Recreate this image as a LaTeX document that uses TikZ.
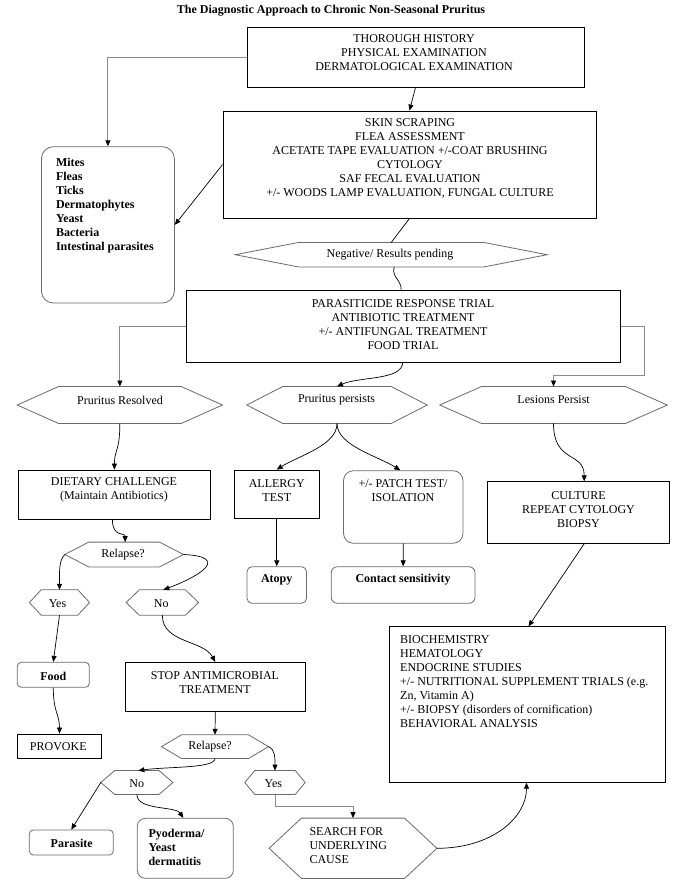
\documentclass[tikz,border=0pt]{standalone}
\usepackage{fontspec}
\setmainfont{Liberation Serif}
\usetikzlibrary{calc,arrows.meta}
\definecolor{shapec}{gray}{0.42}
\definecolor{elbc}{gray}{0.55}
\newcommand{\hexshape}[6]{%
  \node[ghost, minimum width=#4pt, minimum height=#5pt] (#1) at (#2,#3) {};
  \draw[hexline] (#1.west) -- ($(#1.north west)+(#6,0)$) -- ($(#1.north east)+(-#6,0)$) -- (#1.east) -- ($(#1.south east)+(-#6,0)$) -- ($(#1.south west)+(#6,0)$) -- cycle;
}
\begin{document}
\begin{tikzpicture}[x=1pt,y=-1pt,
  font=\fontsize{12}{14}\selectfont,
  box/.style={draw, line width=0.8pt, inner sep=0pt},
  rbox/.style={draw=shapec, line width=0.8pt, inner sep=0pt},
  ghost/.style={inner sep=0pt},
  hexline/.style={draw=shapec, line width=0.8pt, line join=miter},
  txt/.style={inner sep=0pt, align=center},
  ltxt/.style={inner sep=0pt, align=left, anchor=west},
  bold/.style={font=\fontsize{12}{14}\selectfont\bfseries},
  ln/.style={line width=0.7pt},
  arr/.style={line width=0.7pt, -{Triangle[length=6pt,width=5pt]}},
  elb/.style={draw=elbc, line width=0.9pt, -{Triangle[length=6pt,width=5pt,black]}}
]
\fill[white] (0,0) rectangle (680,894);
\useasboundingbox (0,0) rectangle (680,894);

% title
\node[bold, inner sep=0pt] (title) at (331,11) {The Diagnostic Approach to Chronic Non-Seasonal Pruritus};

% top boxes
\node[box, minimum width=337pt, minimum height=60pt] (b1) at (415.5,57) {};
\node[txt] (b1t) at (414,53) {THOROUGH HISTORY\\PHYSICAL EXAMINATION\\DERMATOLOGICAL EXAMINATION};

\node[box, minimum width=373pt, minimum height=107pt] (skin) at (409.5,164.5) {};
\node[txt] (skint) at (410,158) {SKIN SCRAPING\\FLEA ASSESSMENT\\ACETATE TAPE EVALUATION +/-COAT BRUSHING\\CYTOLOGY\\SAF FECAL EVALUATION\\+/- WOODS LAMP EVALUATION, FUNGAL CULTURE};

\node[rbox, rounded corners=12pt, minimum width=133pt, minimum height=156.3pt] (mites) at (107.9,224.85) {};
\node[ltxt, bold] (mitest) at (55.8,205.5) {Mites\\Fleas\\Ticks\\Dermatophytes\\Yeast\\Bacteria\\Intestinal parasites};

\hexshape{neg}{391.2}{254.7}{311.6}{24}{63.2}
\node[txt] (negt) at (390,254.7) {Negative/ Results pending};

\node[box, minimum width=434.2pt, minimum height=72pt] (para) at (403.7,326) {};
\node[txt] (parat) at (403,325) {PARASITICIDE RESPONSE TRIAL\\ANTIBIOTIC TREATMENT\\+/- ANTIFUNGAL TREATMENT\\FOOD TRIAL};

% three outcome hexagons
\hexshape{prh}{119.85}{405}{204.9}{36.6}{41.4}
\node[txt] (prht) at (120,400) {Pruritus Resolved};
\hexshape{pph}{337}{405}{180}{36.6}{36}
\node[txt] (ppht) at (336.5,400) {Pruritus persists};
\hexshape{lph}{553.5}{405}{227}{36.6}{41.7}
\node[txt] (lpht) at (553.6,400) {Lesions Persist};

% second row
\node[box, minimum width=192.2pt, minimum height=49.3pt] (diet) at (114.4,494.65) {};
\node[txt] (diett) at (114,489.5) {DIETARY CHALLENGE\\(Maintain Antibiotics)};

\node[box, minimum width=84.5pt, minimum height=48.3pt] (alg) at (276.75,494.15) {};
\node[txt] (algt) at (276.75,490.85) {ALLERGY\\TEST};

\node[rbox, rounded corners=10pt, minimum width=119.5pt, minimum height=72.6pt] (pat) at (403.25,507) {};
\node[txt] (patt) at (403,491) {+/- PATCH TEST/\\ISOLATION};

\node[rbox, rounded corners=5pt, minimum width=59.5pt, minimum height=36.6pt] (atopy) at (276.75,585) {};
\node[txt, bold] (atopyt) at (276.75,580) {Atopy};

\node[rbox, rounded corners=6pt, minimum width=143.7pt, minimum height=36.6pt] (cont) at (403.15,585) {};
\node[txt, bold] (contt) at (403,580) {Contact sensitivity};

\node[box, minimum width=181.6pt, minimum height=61.6pt] (cult) at (578.2,512.5) {};
\node[txt] (cultt) at (578.5,509.9) {CULTURE\\REPEAT CYTOLOGY\\BIOPSY};

% left branch
\hexshape{rl1}{124.15}{554.5}{118.3}{24.4}{24}
\node[txt] (rl1t) at (123,555) {Relapse?};
\hexshape{yes1}{59.5}{602.5}{59.8}{25}{11.8}
\node[txt] (yes1t) at (57.5,603.3) {Yes};
\hexshape{no1}{162.35}{602.5}{71.9}{25}{13.1}
\node[txt] (no1t) at (161.3,603.3) {No};

\node[rbox, rounded corners=4pt, minimum width=72pt, minimum height=25pt] (food) at (53.3,674.8) {};
\node[txt, bold] (foodt) at (53.3,676) {Food};

\node[box, minimum width=84.4pt, minimum height=24.3pt] (prov) at (59.5,746.15) {};
\node[txt] (provt) at (58.3,746.7) {PROVOKE};

\node[box, minimum width=180pt, minimum height=48.7pt] (stop) at (215.3,686.65) {};
\node[txt] (stopt) at (215,682.7) {STOP ANTIMICROBIAL\\TREATMENT};

\hexshape{rl2}{215}{746.65}{106.6}{23.3}{20}
\node[txt] (rl2t) at (210,746.7) {Relapse?};
\hexshape{no2}{136.85}{782.5}{71.7}{23.6}{14}
\node[txt] (no2t) at (136.7,783.3) {No};
\hexshape{yes2}{275}{782.5}{60}{23.6}{10}
\node[txt] (yes2t) at (273.3,783.3) {Yes};

\node[rbox, rounded corners=4pt, minimum width=84pt, minimum height=25pt] (par) at (71.3,842.5) {};
\node[txt, bold] (part) at (71.7,843.3) {Parasite};

\node[rbox, rounded corners=8pt, minimum width=96pt, minimum height=60pt] (pyo) at (185.3,848.3) {};
\node[ltxt, bold] (pyot) at (148.3,846.9) {Pyoderma/\\Yeast\\dermatitis};

\hexshape{srch}{353}{848.3}{167.4}{60}{32.4}
\node[ltxt] (srcht) at (309.3,845.6) {SEARCH FOR\\UNDERLYING\\CAUSE};

\node[box, minimum width=276.4pt, minimum height=155.6pt] (bio) at (527.5,704.5) {};
\node[ltxt] (biot) at (400,682) {BIOCHEMISTRY\\HEMATOLOGY\\ENDOCRINE STUDIES\\+/- NUTRITIONAL SUPPLEMENT TRIALS (e.g.\\Zn, Vitamin A)\\+/- BIOPSY (disorders of cornification)\\BEHAVIORAL ANALYSIS};

% connectors
\coordinate (rj) at (644.3,375);
\coordinate (yj) at (275,806.7);

\draw[arr] (b1.south) -- (skin.north);
\draw[elb] (b1.west) -| (mites.north);
\draw[arr] (skin.west) -- (mites.east);
\draw[ln] (skin.south) -- (neg.north);
\draw[ln] ($(neg.south)+(3,0)$) .. controls +(-3,10) and +(0,-10) .. ($(para.north)+(-2.5,0)$);
\draw[elb] (para.west) -| (prh.north);
\draw[elb] (para.east) -| (rj) -| (lph.north);
\draw[arr] ($(para.south)+(-1,0)$) .. controls +(0,18) and +(22,-10) .. (pph.north);

\draw[arr] (prh.south) .. controls +(0,28) and +(0,-20) .. (diet.north);
\draw[arr] (pph.south) .. controls +(0,22) and +(22,-14) .. (alg.north);
\draw[arr] (pph.south) .. controls +(0,22) and +(-22,-14) .. ($(pat.north)+(-3,0)$);
\draw[arr] (alg.south) -- (atopy.north);
\draw[arr] (pat.south) -- (cont.north);
\draw[arr] (lph.south) .. controls +(0,40) and +(0,-30) .. ($(cult.north)+(6,0)$);
\draw[arr] ($(cult.south)+(6,0)$) -- ($(bio.north)+(1,0)$);

\draw[arr] ($(diet.south)+(-2,0)$) .. controls +(0,18) and +(0,-10) .. ($(rl1.north)+(1,0)$);
\draw[arr] (rl1.west) .. controls +(-6,6) and +(0,-18) .. (yes1.north);
\draw[arr] (rl1.east) .. controls +(45,2) and +(40,-15) .. ($(no1.north)+(1,0)$);
\draw[arr] (yes1.south) -- (food.north);
\draw[arr] (food.south) .. controls +(0,25) and +(0,-20) .. (prov.north);
\draw[arr] (no1.south) .. controls +(0,28) and +(-12,-22) .. (stop.north);
\draw[arr] (stop.south) -- (rl2.north);
\draw[arr] (rl2.south) .. controls +(0,10) and +(30,-4) .. ($(no2.north)+(1.5,0)$);
\draw[arr] (rl2.east) .. controls +(7,3) and +(0,-12) .. (yes2.north);
\draw[arr] (no2.west) -- (par.north);
\draw[arr] (no2.south) .. controls +(0,16) and +(-8,-12) .. ($(pyo.north)+(-2,0)$);
\draw[elb] (yes2.south) -- (yj) -| (srch.north);
\draw[arr] (srch.east) .. controls +(55,0) and +(0,35) .. ($(bio.south)+(-1,0)$);
\end{tikzpicture}
\end{document}
